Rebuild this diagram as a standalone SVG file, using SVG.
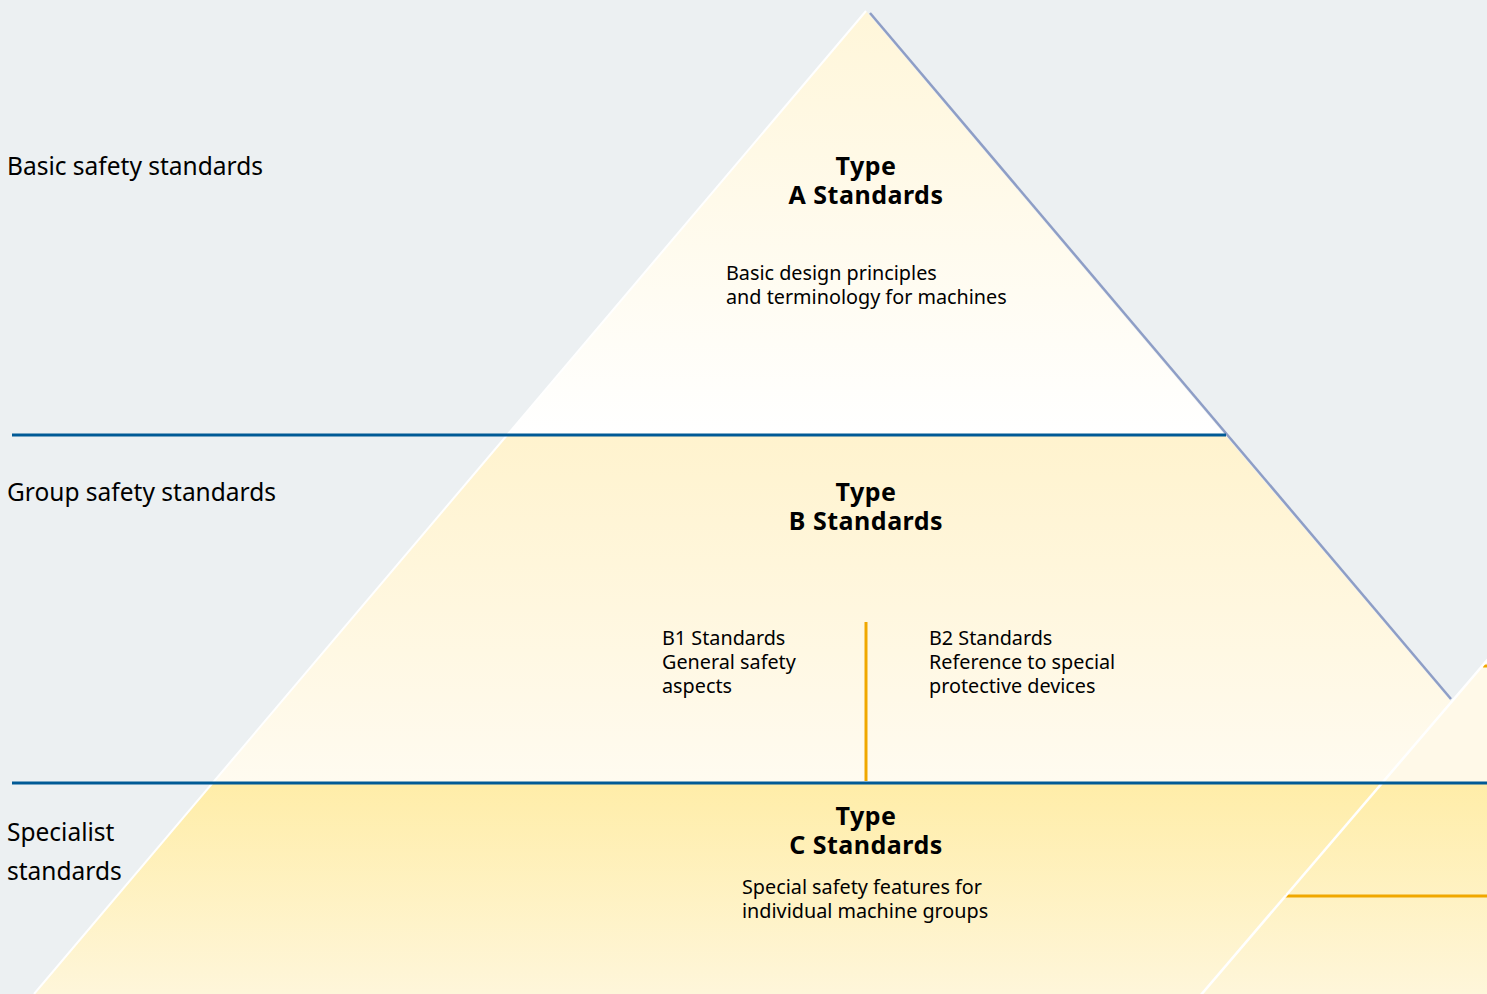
<svg xmlns="http://www.w3.org/2000/svg" width="1487" height="994" viewBox="0 0 1487 994">
  <defs>
    <linearGradient id="gA" x1="0" y1="11" x2="0" y2="435" gradientUnits="userSpaceOnUse">
      <stop offset="0" stop-color="#FFF6D9"/>
      <stop offset="1" stop-color="#FFFFFF"/>
    </linearGradient>
    <linearGradient id="gB" x1="0" y1="435" x2="0" y2="783" gradientUnits="userSpaceOnUse">
      <stop offset="0" stop-color="#FFF3CE"/>
      <stop offset="1" stop-color="#FFFBF0"/>
    </linearGradient>
    <linearGradient id="gC" x1="0" y1="783" x2="0" y2="994" gradientUnits="userSpaceOnUse">
      <stop offset="0" stop-color="#FFEDA8"/>
      <stop offset="1" stop-color="#FEF6DA"/>
    </linearGradient>
    <style>
      .lbl { font-family: "Noto Sans", "Open Sans", sans-serif; font-size: 24.5px; fill: #000; }
      .ttl { font-family: "Noto Sans", "Open Sans", sans-serif; font-size: 25px; font-weight: bold; letter-spacing: 0.5px; fill: #000; text-anchor: middle; }
      .txt { font-family: "Noto Sans", "Open Sans", sans-serif; font-size: 19.8px; fill: #000; }
      .div { stroke: #005A96; stroke-width: 3; fill: none; }
      .org { stroke: #F0A800; stroke-width: 3; fill: none; }
    </style>
  </defs>

  <!-- page background -->
  <rect width="1487" height="994" fill="#ECF0F2"/>

  <!-- main pyramid, three tiers -->
  <g id="tier-a">
    <polygon points="866,11 1225,435 507,435" fill="url(#gA)"/>
    <text class="ttl" x="866" y="175">Type<tspan x="866" dy="29">A Standards</tspan></text>
    <text class="txt" x="726" y="280">Basic design principles<tspan x="726" dy="24">and terminology for machines</tspan></text>
  </g>
  <g id="tier-b">
    <polygon points="507,435 1225,435 1520,783 212,783" fill="url(#gB)"/>
    <text class="ttl" x="866" y="501">Type<tspan x="866" dy="29">B Standards</tspan></text>
    <text class="txt" x="662" y="645">B1 Standards<tspan x="662" dy="24">General safety</tspan><tspan x="662" dy="24">aspects</tspan></text>
    <text class="txt" x="929" y="645">B2 Standards<tspan x="929" dy="24">Reference to special</tspan><tspan x="929" dy="24">protective devices</tspan></text>
  </g>
  <g id="tier-c">
    <polygon points="212,783 1487,783 1487,994 34,994" fill="url(#gC)"/>
    <text class="ttl" x="866" y="825">Type<tspan x="866" dy="29">C Standards</tspan></text>
    <text class="txt" x="742" y="894">Special safety features for<tspan x="742" dy="24">individual machine groups</tspan></text>
  </g>

  <!-- neighbouring pyramid at the right edge -->
  <g id="side-pyramid">
    <polygon points="1487,660 1487,783 1382,783" fill="#FFF9E8"/>
    <polygon points="1382,783 1487,783 1487,994 1201,994" fill="url(#gC)"/>
    <line class="org" x1="1285" y1="896" x2="1487" y2="896"/>
    <line class="org" x1="1483" y1="666" x2="1487" y2="666"/>
  </g>

  <!-- pyramid outlines -->
  <g id="outlines" fill="none">
    <line x1="866" y1="11" x2="34" y2="994" stroke="#FFFFFF" stroke-width="2"/>
    <line x1="870" y1="13" x2="1451" y2="699" stroke="#8E9EC6" stroke-width="2.5"/>
    <line x1="1489" y1="658" x2="1200" y2="996" stroke="#FFFFFF" stroke-width="2.5"/>
  </g>

  <!-- tier dividers and B1/B2 separator -->
  <g id="connectors">
    <line class="div" x1="12" y1="435" x2="1226" y2="435"/>
    <line class="div" x1="12" y1="783" x2="1487" y2="783"/>
    <line class="org" x1="866" y1="622" x2="866" y2="781"/>
  </g>

  <!-- level labels -->
  <g id="labels">
    <text class="lbl" x="7" y="175">Basic safety standards</text>
    <text class="lbl" x="7" y="501">Group safety standards</text>
    <text class="lbl" x="7" y="841">Specialist<tspan x="7" dy="39">standards</tspan></text>
  </g>
</svg>
